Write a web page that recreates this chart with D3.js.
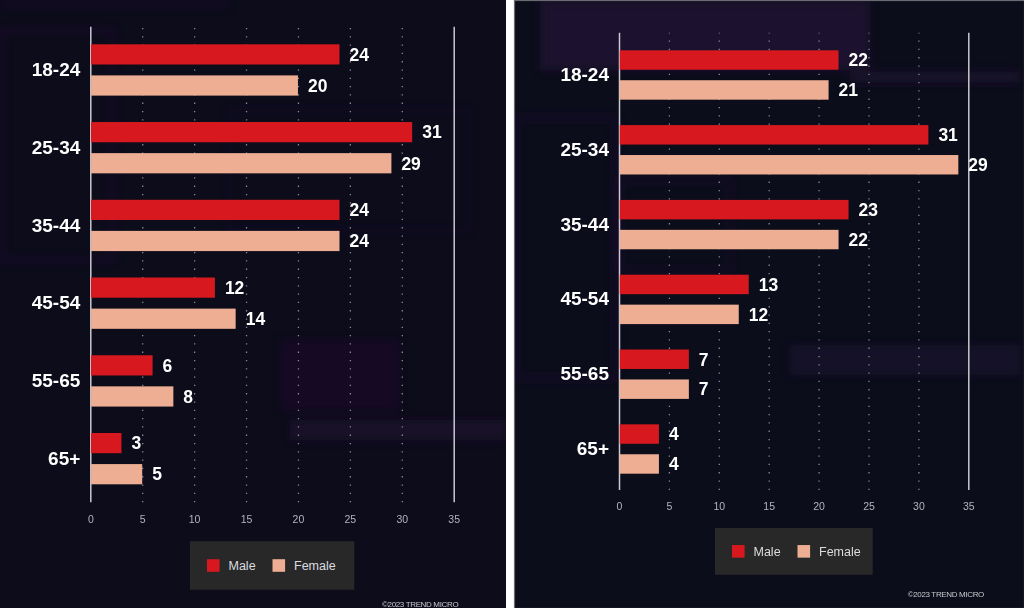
<!DOCTYPE html>
<html>
<head>
<meta charset="utf-8">
<script src="https://cdn.jsdelivr.net/npm/d3@7/dist/d3.min.js"></script>
<style>
	html, body { margin: 0; padding: 0; background: #fff; }
	svg { display: block; }
	text { font-family: "Liberation Sans", Arial, sans-serif; }
</style>
</head>
<body>
<svg width="1024" height="608"></svg>
<script>
// data..........................................................................

var ageGroups = ["18-24", "25-34", "35-44", "45-54", "55-65", "65+"],
	seriesNames = ["Male", "Female"],
	tickValues = [0, 5, 10, 15, 20, 25, 30, 35],

	maleLeft = [24, 31, 24, 12, 6, 3],
	femaleLeft = [20, 29, 24, 14, 8, 5],

	maleRight = [22, 31, 23, 13, 7, 4],
	// female 25-34 bar is drawn out to ~34 in the source, labelled 29
	femaleRight = [21, 34, 22, 12, 7, 4],
	femaleRightLabels = [21, 29, 22, 12, 7, 4];

var colors = {Male: "#d7191f", Female: "#eeae93"};

// panel layout..................................................................

var panels = [
	{
		x0: 0, w: 506, bg: "#0c0c1b", border: false,
		male: maleLeft, female: femaleLeft,
		maleLabels: maleLeft, femaleLabels: femaleLeft,
		xRange: [90.3, 453.7], yRange: [44.3, 484.3],
		lineTop: 26.7, lineBottom: 502.3,
		legend: {x: 190, y: 541.3, w: 164.3, h: 48.4},
		copyright: {x: 382, y: 607}
	},
	{
		x0: 514, w: 510, bg: "#0b0d1b", border: true,
		male: maleRight, female: femaleRight,
		maleLabels: maleRight, femaleLabels: femaleRightLabels,
		xRange: [619, 968.3], yRange: [50.3, 473.7],
		lineTop: 32.7, lineBottom: 490,
		legend: {x: 715, y: 528, w: 157.7, h: 46.7},
		copyright: {x: 907.7, y: 596.7}
	}
];

var svg = d3.select("svg");

var defs = svg.append("defs");
defs.append("filter").attr("id", "blur")
	.attr("x", "-20%").attr("y", "-20%").attr("width", "140%").attr("height", "140%")
	.append("feGaussianBlur").attr("stdDeviation", 4);

panels.forEach(function(p, i) { drawPanel(p, i); });

// draw functions................................................................

function drawPanel(p, idx) {
	var clipId = "clip" + idx;
	defs.append("clipPath").attr("id", clipId)
		.append("rect").attr("x", p.x0).attr("y", 0)
		.attr("width", p.w).attr("height", 608);

	var g = svg.append("g");

	g.append("rect")
		.attr("x", p.x0).attr("y", 0)
		.attr("width", p.w).attr("height", 608)
		.attr("fill", p.bg);

	// faint purple background shapes (blurred photo behind the chart)
	var deco = g.append("g")
		.attr("clip-path", "url(#" + clipId + ")")
		.attr("filter", "url(#blur)");
	if (idx == 0) {
		deco.append("rect").attr("x", 0).attr("y", 3).attr("width", 230).attr("height", 3)
			.attr("fill", "#4a2060").attr("opacity", 0.3);
		deco.append("rect").attr("x", 2).attr("y", 30).attr("width", 110).attr("height", 230)
			.attr("fill", "none").attr("stroke", "#4a2060").attr("stroke-width", 3).attr("opacity", 0.3);
		deco.append("rect").attr("x", 230).attr("y", 110).attr("width", 240).attr("height", 120)
			.attr("fill", "none").attr("stroke", "#3d1a4e").attr("stroke-width", 2).attr("opacity", 0.3);
		deco.append("rect").attr("x", 290).attr("y", 420).attr("width", 216).attr("height", 20)
			.attr("fill", "#3a1748").attr("opacity", 0.3);
		deco.append("rect").attr("x", 280).attr("y", 340).attr("width", 120).attr("height", 70)
			.attr("fill", "#2e1240").attr("opacity", 0.25);
	} else {
		deco.append("rect").attr("x", 540).attr("y", 0).attr("width", 330).attr("height", 70)
			.attr("fill", "#3a1a4c").attr("opacity", 0.4);
		deco.append("rect").attr("x", 516).attr("y", 118).attr("width", 100).attr("height", 260)
			.attr("fill", "none").attr("stroke", "#3e1b52").attr("stroke-width", 3).attr("opacity", 0.35);
		deco.append("rect").attr("x", 620).attr("y", 180).attr("width", 110).attr("height", 90)
			.attr("fill", "none").attr("stroke", "#3e1b52").attr("stroke-width", 3).attr("opacity", 0.3);
		deco.append("rect").attr("x", 790).attr("y", 345).attr("width", 230).attr("height", 30)
			.attr("fill", "#331544").attr("opacity", 0.3);
		deco.append("rect").attr("x", 850).attr("y", 72).attr("width", 170).attr("height", 10)
			.attr("fill", "#3e1b52").attr("opacity", 0.3);
	}

	if (p.border) {
		g.append("rect")
			.attr("x", p.x0 + 0.5).attr("y", 0.5)
			.attr("width", p.w).attr("height", 608)
			.attr("fill", "none").attr("stroke", "#6a6a72").attr("stroke-width", 1.2);
	}

	var x = d3.scaleLinear().domain([0, 35]).range(p.xRange),
		y = d3.scaleBand().domain(ageGroups).range(p.yRange)
			.paddingInner(0.34).paddingOuter(0),
		ySeries = d3.scaleBand().domain(seriesNames).range([0, y.bandwidth()])
			.paddingInner(0.35);

	// x axis with grid lines
	var xAxis = g.append("g")
		.attr("transform", "translate(0," + p.lineBottom + ")")
		.call(d3.axisBottom(x)
			.tickValues(tickValues)
			.tickSize(-(p.lineBottom - p.lineTop))
			.tickPadding(13));
	xAxis.select(".domain").remove();
	xAxis.selectAll(".tick line")
		.attr("stroke", function(d) { return (d == 0 || d == 35) ? "#c9c9cf" : "#8a8a94"; })
		.attr("stroke-width", function(d) { return (d == 0 || d == 35) ? 1.5 : 1.3; })
		.attr("stroke-dasharray", function(d) { return (d == 0 || d == 35) ? null : "1.3,7"; });
	xAxis.selectAll(".tick text")
		.attr("fill", "#b4b4bc")
		.style("font-size", "10.5px");

	// category labels
	var yAxis = g.append("g")
		.attr("transform", "translate(" + (x(0) - 10) + ",0)")
		.call(d3.axisLeft(y).tickSize(0).tickPadding(0));
	yAxis.select(".domain").remove();
	yAxis.selectAll(".tick text")
		.attr("fill", "#ffffff")
		.style("font-size", "19px")
		.style("font-weight", "bold");

	// bars
	var rows = ageGroups.map(function(a, i) {
		return [
			{group: a, series: "Male", value: p.male[i], label: p.maleLabels[i]},
			{group: a, series: "Female", value: p.female[i], label: p.femaleLabels[i]}
		];
	});
	var flat = d3.merge(rows);

	g.append("g").selectAll("rect")
		.data(flat)
		.enter().append("rect")
			.attr("x", x(0) + 0.75)
			.attr("y", function(d) { return y(d.group) + ySeries(d.series); })
			.attr("width", function(d) { return x(d.value) - x(0) - 0.75; })
			.attr("height", ySeries.bandwidth())
			.attr("fill", function(d) { return colors[d.series]; });

	g.append("g").selectAll("text")
		.data(flat)
		.enter().append("text")
			.attr("x", function(d) { return x(d.value) + 10; })
			.attr("y", function(d) { return y(d.group) + ySeries(d.series) + ySeries.bandwidth() / 2; })
			.attr("dy", "0.36em")
			.attr("fill", "#ffffff")
			.style("font-size", "17.5px")
			.style("font-weight", "bold")
			.text(function(d) { return d.label; });

	// legend
	var L = p.legend,
		lg = g.append("g").attr("transform", "translate(" + L.x + "," + L.y + ")");
	lg.append("rect")
		.attr("width", L.w).attr("height", L.h)
		.attr("fill", "#282828");
	var item = lg.selectAll(".item")
		.data(seriesNames)
		.enter().append("g")
			.attr("class", "item")
			.attr("transform", function(d, i) { return "translate(" + (17 + i * 65.5) + "," + (L.h / 2) + ")"; });
	item.append("rect")
		.attr("x", 0).attr("y", -6.3)
		.attr("width", 12.6).attr("height", 12.6)
		.attr("fill", function(d) { return colors[d]; });
	item.append("text")
		.attr("x", 21.5)
		.attr("dy", "0.36em")
		.attr("fill", "#dcdce0")
		.style("font-size", "12.5px")
		.text(function(d) { return d; });

	// copyright
	g.append("text")
		.attr("x", p.copyright.x)
		.attr("y", p.copyright.y)
		.attr("fill", "#c8c8cc")
		.style("font-size", "8px")
		.style("letter-spacing", "-0.35px")
		.text("\u00a92023 TREND MICRO");
}
</script>
</body>
</html>
